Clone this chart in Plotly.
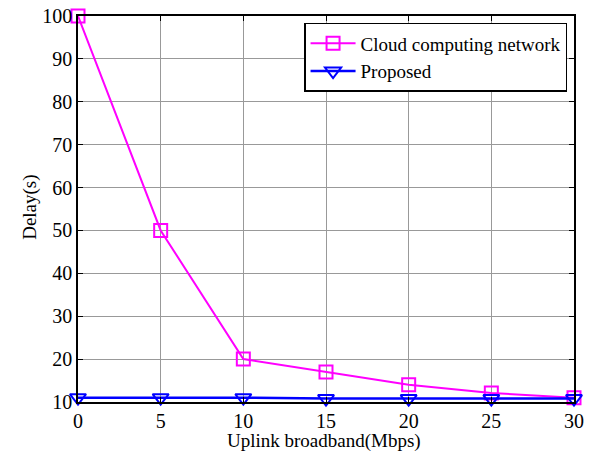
import plotly.graph_objects as go

x_vals = [0, 5, 10, 15, 20, 25, 30]
cloud = [100, 50, 20, 17, 14, 12.1, 11]
proposed = [11, 11, 11, 10.8, 10.8, 10.8, 10.8]
x_ticks = [0, 5, 10, 15, 20, 25, 30]
y_ticks = [10, 20, 30, 40, 50, 60, 70, 80, 90, 100]

font = "Liberation Serif, Times New Roman, serif"

fig = go.Figure()
fig.add_trace(go.Scatter(
    x=x_vals, y=cloud, mode="lines+markers", name="Cloud computing network",
    line=dict(color="#ff00ff", width=2),
    marker=dict(symbol="square-open", size=13, color="#ff00ff", line=dict(width=2)),
    cliponaxis=False))
fig.add_trace(go.Scatter(
    x=x_vals, y=proposed, mode="lines+markers", name="Proposed",
    line=dict(color="#0000ff", width=2.5),
    marker=dict(symbol="triangle-down-open", size=14, color="#0000ff", line=dict(width=2)),
    cliponaxis=False))

axis_common = dict(
    showline=True, linecolor="black", linewidth=1.5, mirror="ticks",
    ticks="inside", ticklen=5, tickcolor="black",
    showgrid=True, gridcolor="#999999", gridwidth=1,
    zeroline=False, automargin=False, ticklabeloverflow="allow",
    tickfont=dict(family=font, size=20, color="black"),
)
fig.update_xaxes(range=[0, 30], tickvals=x_ticks, **axis_common)
fig.update_yaxes(range=[10, 100], tickvals=y_ticks, **axis_common)

fig.add_annotation(text="Uplink broadband(Mbps)", xref="paper", yref="paper",
                   x=0.496, y=0, yshift=-39, xanchor="center", yanchor="middle",
                   showarrow=False, font=dict(family=font, size=19, color="black"))
fig.add_annotation(text="Delay(s)", xref="paper", yref="paper",
                   x=0, y=0.503, xshift=-48, xanchor="center", yanchor="middle",
                   textangle=-90, showarrow=False,
                   font=dict(family=font, size=19, color="black"))

# page body has an 8px default margin, so shrink the figure accordingly
fig.update_layout(
    width=586, height=443,
    margin=dict(l=70, r=20, t=8, b=49),
    paper_bgcolor="white", plot_bgcolor="white",
    font=dict(family=font, size=19, color="black"),
    showlegend=True,
    legend=dict(x=0.986, y=0.982, xanchor="right", yanchor="top",
                bordercolor="black", borderwidth=1.5, bgcolor="white",
                font=dict(family=font, size=19, color="black"),
                tracegroupgap=0, itemwidth=45),
)
fig.write_html("out.html")
